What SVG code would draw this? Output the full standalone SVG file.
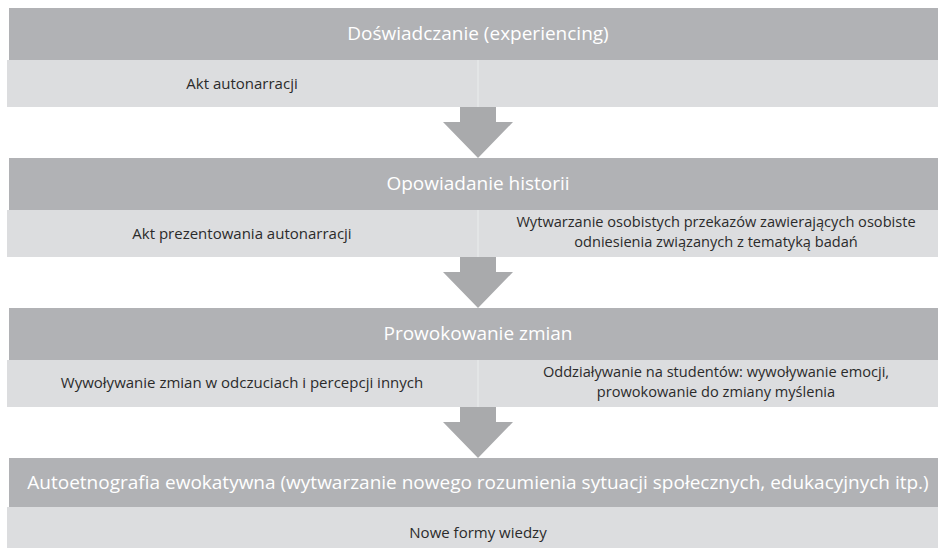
<svg xmlns="http://www.w3.org/2000/svg" width="938" height="549" viewBox="0 0 938 549">
<style>
.hd{fill:#b1b2b5}
.row{fill:#dcdddf}
.div{stroke:#e6e7e9;stroke-width:1.5}
.arr{fill:#a9aaac}
.ht{font-family:"Open Sans","Liberation Sans",sans-serif;font-size:19px;fill:#ffffff;text-anchor:middle}
.rt{font-family:"Open Sans","Liberation Sans",sans-serif;font-size:15px;fill:#2b2b2b;text-anchor:middle}
.rt2{font-family:"Open Sans","Liberation Sans",sans-serif;font-size:14.6px;fill:#2b2b2b;text-anchor:middle}
</style>
<rect width="938" height="549" fill="#ffffff"/>
<g id="connectors">
<polygon class="arr" points="460,107 496,107 496,122 513,122 478,158 443,122 460,122"/>
<polygon class="arr" points="460,257 496,257 496,272 513,272 478,308 443,272 460,272"/>
<polygon class="arr" points="460,407 496,407 496,422 513,422 478,458 443,422 460,422"/>
</g>
<g id="stage1">
<rect class="hd" x="9" y="8" width="929" height="52"/>
<text class="ht" x="478" y="40">Doświadczanie (experiencing)</text>
<rect class="row" x="7" y="60" width="931" height="47"/>
<line class="div" x1="478" y1="60" x2="478" y2="107"/>
<text class="rt" x="242" y="89">Akt autonarracji</text>
</g>
<g id="stage2">
<rect class="hd" x="9" y="158" width="929" height="52"/>
<text class="ht" x="478" y="190">Opowiadanie historii</text>
<rect class="row" x="7" y="210" width="931" height="47"/>
<line class="div" x1="478" y1="210" x2="478" y2="257"/>
<text class="rt" x="242" y="239">Akt prezentowania autonarracji</text>
<text class="rt2" x="716" y="227">Wytwarzanie osobistych przekazów zawierających osobiste</text>
<text class="rt2" x="716" y="247">odniesienia związanych z tematyką badań</text>
</g>
<g id="stage3">
<rect class="hd" x="9" y="308" width="929" height="52"/>
<text class="ht" x="478" y="340">Prowokowanie zmian</text>
<rect class="row" x="7" y="360" width="931" height="47"/>
<line class="div" x1="478" y1="360" x2="478" y2="407"/>
<text class="rt" x="242" y="388">Wywoływanie zmian w odczuciach i percepcji innych</text>
<text class="rt2" x="716" y="377">Oddziaływanie na studentów: wywoływanie emocji,</text>
<text class="rt2" x="716" y="397">prowokowanie do zmiany myślenia</text>
</g>
<g id="stage4">
<rect class="hd" x="9" y="458" width="929" height="49"/>
<text class="ht" x="478" y="489">Autoetnografia ewokatywna (wytwarzanie nowego rozumienia sytuacji społecznych, edukacyjnych itp.)</text>
<rect class="row" x="7" y="507" width="931" height="41"/>
<text class="rt" x="478" y="538">Nowe formy wiedzy</text>
</g>
</svg>
